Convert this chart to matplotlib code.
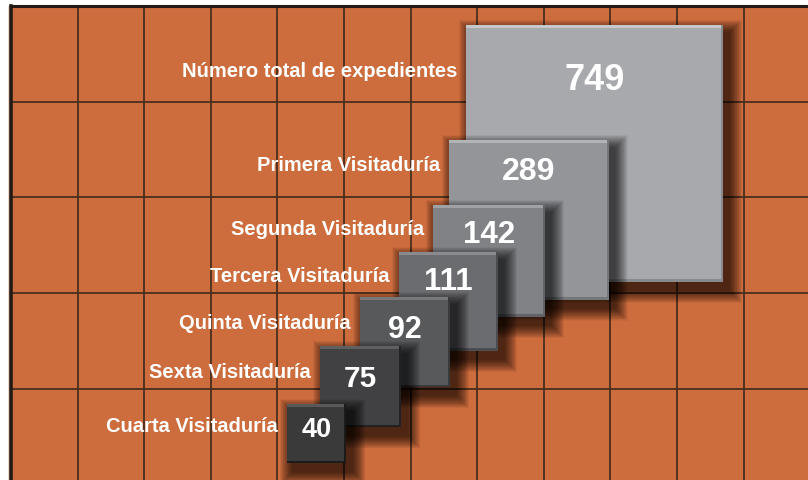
import numpy as np
import matplotlib
matplotlib.use("Agg")
import matplotlib.pyplot as plt
from matplotlib.patches import Rectangle

# datos
etiquetas = ["Número total de expedientes", "Primera Visitaduría", "Segunda Visitaduría",
             "Tercera Visitaduría", "Quinta Visitaduría", "Sexta Visitaduría",
             "Cuarta Visitaduría"]
valores = [749, 289, 142, 111, 92, 75, 40]

# disposicion (pixeles)
caja_x = [466, 449, 433, 399, 360, 320, 287]
caja_y = [26, 141, 206, 253, 298, 347, 405]
base_etq = [77, 171, 235, 282, 329, 378, 432]
base_num = [90, 180, 243, 290, 338, 387, 437]
tam_num = [26, 23, 22.5, 22.5, 22, 21.5, 19.5]
colores = ["#a8a9ad", "#939598", "#808285", "#6b6c6f", "#58595b", "#414042", "#3a3a3b"]
escala = 9.39

fuente = ["Liberation Sans", "DejaVu Sans"]

fig = plt.figure(figsize=(8.08, 4.81), dpi=100)
ax = fig.add_axes([0, 0, 1, 1])
ax.set_xlim(0, 808)
ax.set_ylim(481, 0)
ax.axis("off")

# fondo naranja con reticula
ax.add_patch(Rectangle((11, 7), 800, 480, facecolor="#cd6c3d", edgecolor="none", zorder=0))
ax.add_patch(Rectangle((8, 7), 3, 480, facecolor="#efd6c8", edgecolor="none", zorder=0))
xs = 11 + 66.6 * np.arange(1, 13)
ys = 7 + 95.7 * np.arange(1, 6)
ax.vlines(xs, 7, 481, color="#4a2e20", lw=1.3, zorder=1)
ax.hlines(ys, 11, 808, color="#4a2e20", lw=1.3, zorder=1)
ax.plot([11, 11], [7, 481], color="#231a16", lw=2.6, zorder=1)
ax.plot([11, 808], [7, 7], color="#231a16", lw=2.2, zorder=1)


def sombra(x, y, s, z):
    n = 20
    for i in range(n):
        d = 26 - 1.3 * i
        ax.add_patch(Rectangle((x + 6 - d / 2, y + 8 - d / 2), s + d, s + d,
                               facecolor="black", edgecolor="none", alpha=0.045, zorder=z))


for k, (lab, v) in enumerate(zip(etiquetas, valores)):
    s = escala * np.sqrt(v)
    x, y = caja_x[k], caja_y[k]
    z = 2 + k * 3
    sombra(x, y, s, z)
    c = np.array(matplotlib.colors.to_rgb(colores[k]))
    ax.add_patch(Rectangle((x, y), s, s, facecolor=c, edgecolor="none", zorder=z + 1))
    claro = np.clip(c + 0.12, 0, 1)
    oscuro = np.clip(c - 0.12, 0, 1)
    ax.add_patch(Rectangle((x, y), s, 2.5, facecolor=claro, edgecolor="none", zorder=z + 1.5))
    ax.add_patch(Rectangle((x, y + s - 2.5), s, 2.5, facecolor=oscuro, edgecolor="none", zorder=z + 1.5))
    ax.add_patch(Rectangle((x + s - 2, y), 2, s, facecolor=oscuro, edgecolor="none", zorder=z + 1.5))
    ax.text(x + s / 2, base_num[k], str(v), color="white", fontsize=tam_num[k],
            fontweight="bold", family=fuente, ha="center", va="baseline", zorder=z + 2)
    ax.text(x - 9, base_etq[k], lab, color="white", fontsize=14.5, fontweight="bold",
            family=fuente, ha="right", va="baseline", zorder=30)

fig.savefig("out.png", dpi=100, facecolor="white")
